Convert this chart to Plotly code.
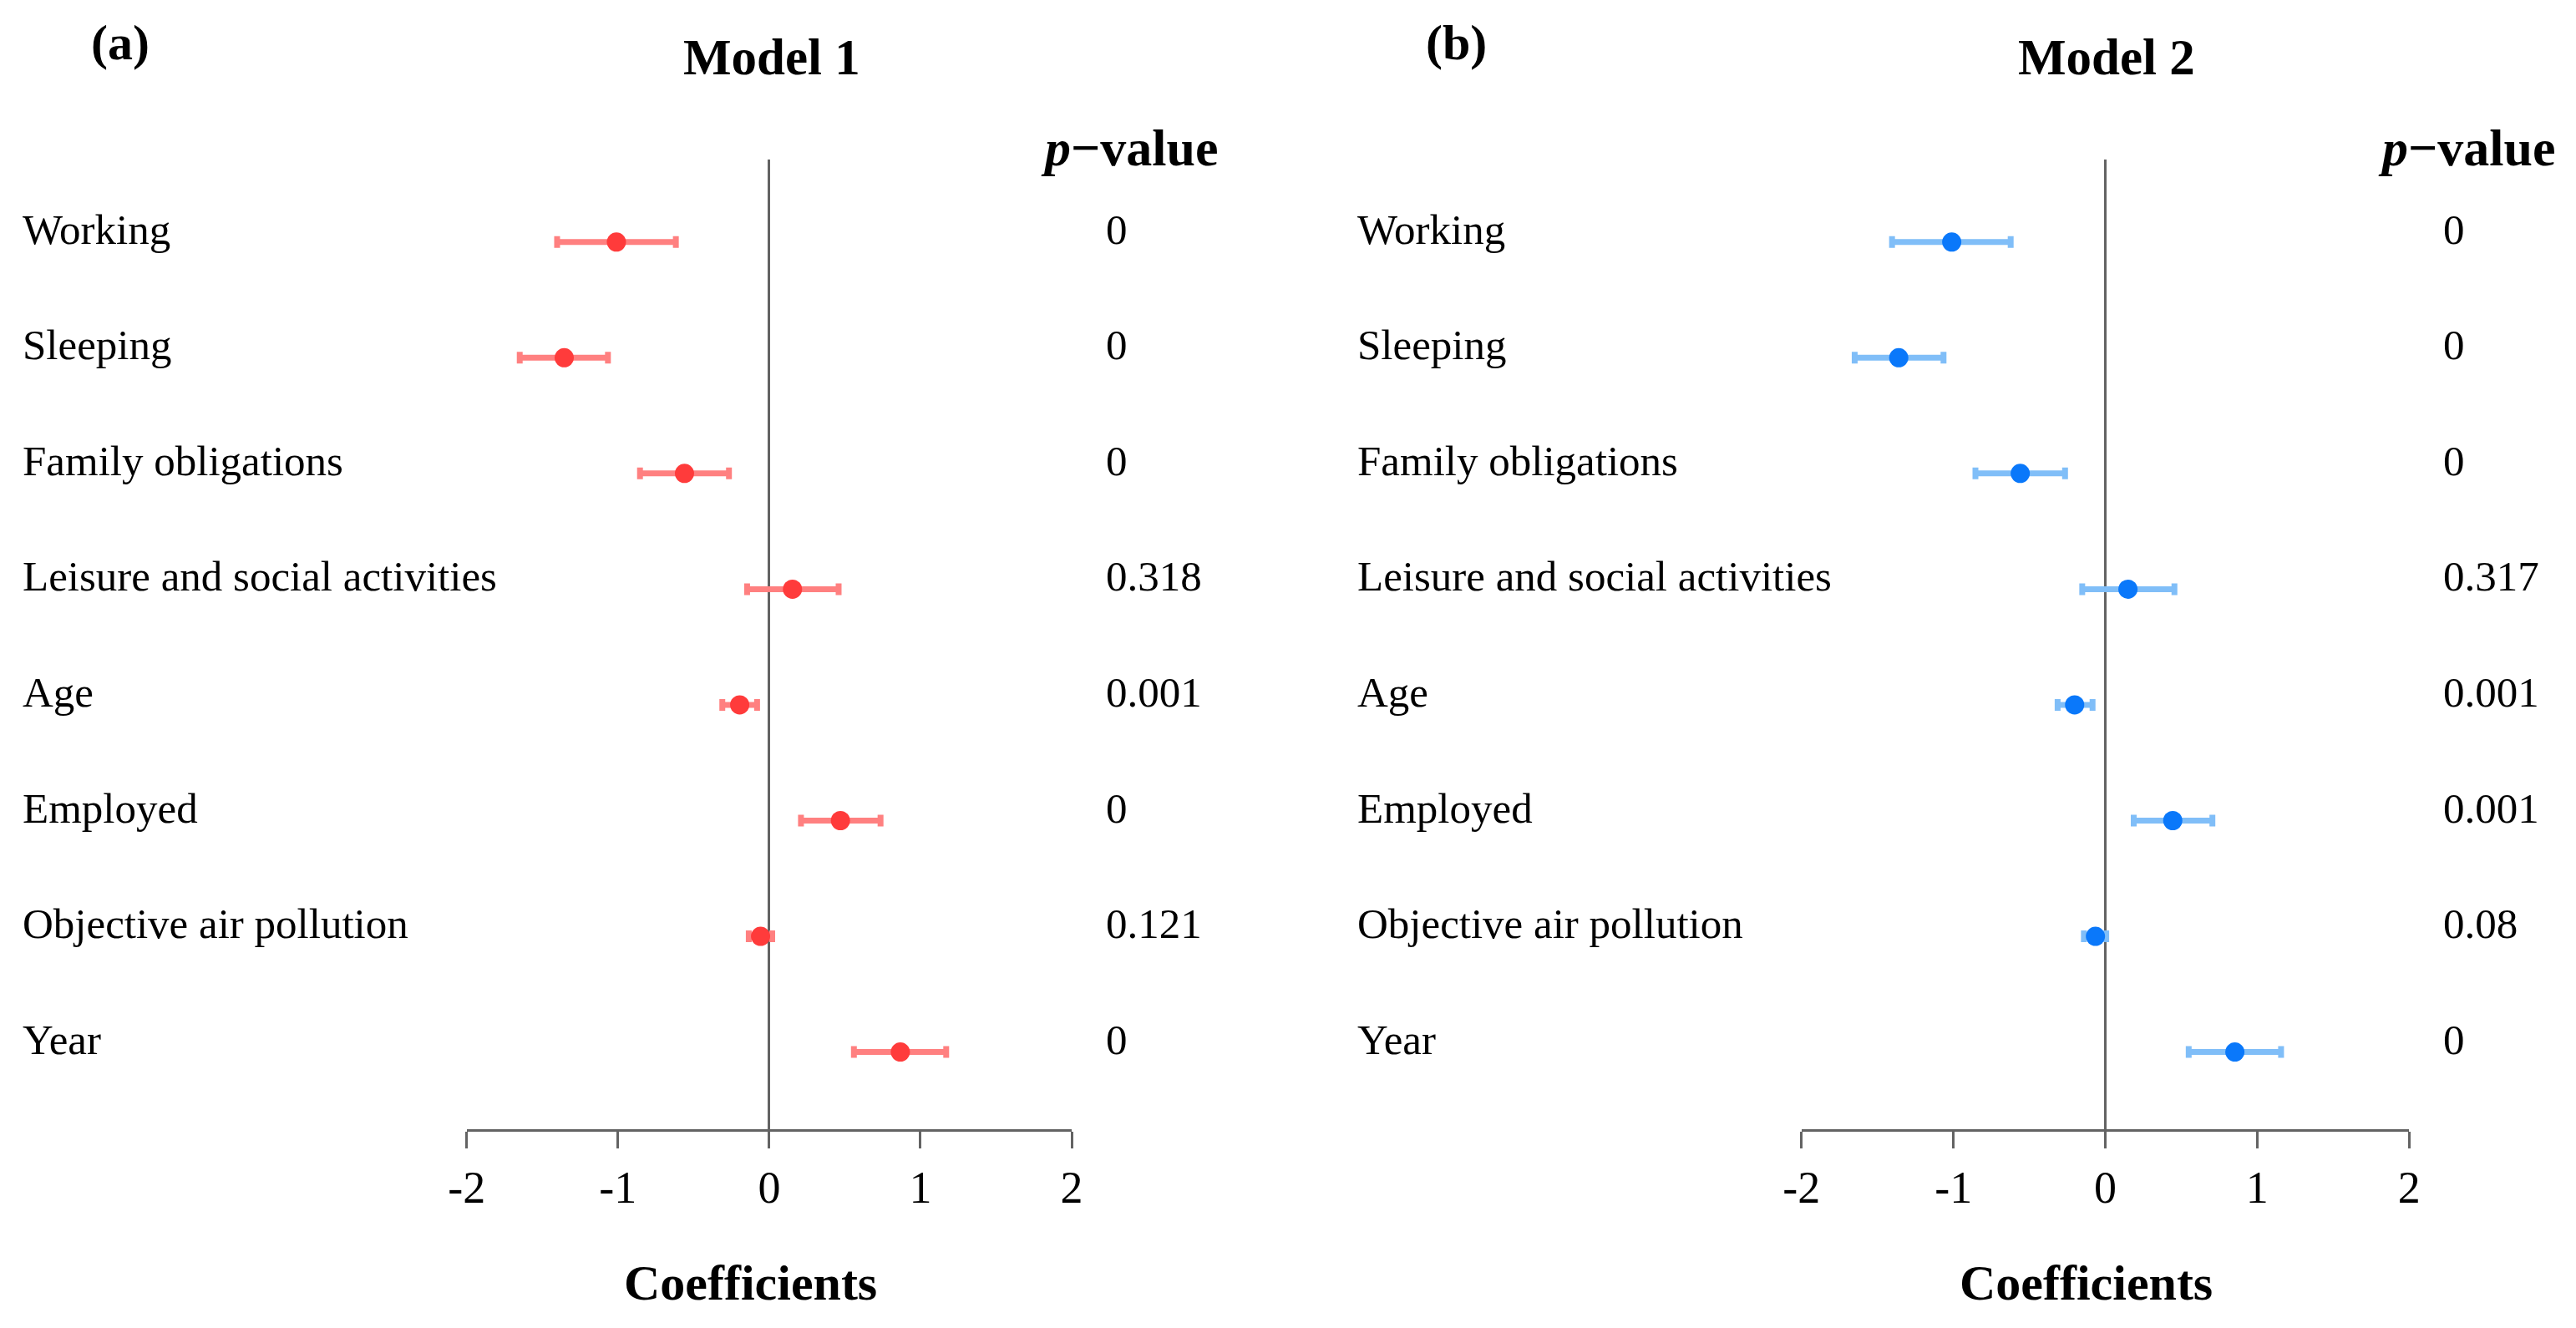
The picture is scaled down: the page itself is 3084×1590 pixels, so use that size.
import plotly.graph_objects as go

labels = ["Working", "Sleeping", "Family obligations", "Leisure and social activities",
          "Age", "Employed", "Objective air pollution", "Year"]

m1_coef = [-1.01, -1.355, -0.56, 0.154, -0.195, 0.471, -0.057, 0.867]
m1_lo = [-1.402, -1.649, -0.854, -0.146, -0.31, 0.21, -0.135, 0.56]
m1_hi = [-0.617, -1.066, -0.266, 0.459, -0.08, 0.736, 0.02, 1.17]
m1_p = ["0", "0", "0", "0.318", "0.001", "0", "0.121", "0"]

m2_coef = [-1.011, -1.36, -0.56, 0.149, -0.202, 0.444, -0.065, 0.853]
m2_lo = [-1.404, -1.65, -0.855, -0.152, -0.314, 0.187, -0.141, 0.549]
m2_hi = [-0.623, -1.065, -0.265, 0.455, -0.084, 0.705, 0.006, 1.157]
m2_p = ["0", "0", "0", "0.317", "0.001", "0.001", "0.08", "0"]

ticks = [-2, -1, 0, 1, 2]
tick_text = ["-2", "-1", "0", "1", "2"]

W, H = 3084, 1590
FONT = "Liberation Serif"
GREY = "#636363"
rows = list(range(len(labels)))


def px(x):
    return x / W


def py(y):
    return 1 - y / H


def forest(coef, lo, hi, marker_col, bar_col, xa, ya):
    return go.Scatter(
        x=coef, y=rows, mode="markers", xaxis=xa, yaxis=ya,
        marker=dict(size=23, color=marker_col),
        error_x=dict(type="data", symmetric=False,
                     array=[h - c for h, c in zip(hi, coef)],
                     arrayminus=[c - l for c, l in zip(coef, lo)],
                     color=bar_col, thickness=7, width=7),
        showlegend=False, hoverinfo="skip",
    )


fig = go.Figure()
fig.add_trace(forest(m1_coef, m1_lo, m1_hi, "#FF3B3B", "#FF8080", "x", "y"))
fig.add_trace(forest(m2_coef, m2_lo, m2_hi, "#0A78FA", "#80BEF8", "x2", "y2"))

xax = dict(range=[-2, 2], tickvals=ticks, ticktext=tick_text, ticks="outside",
           ticklen=20, tickwidth=3, tickcolor=GREY, showline=True, linecolor=GREY,
           linewidth=3, zeroline=True, zerolinecolor=GREY, zerolinewidth=3,
           showgrid=False, tickfont=dict(family=FONT, size=54, color="black"),
           fixedrange=True)
yax = dict(range=[7.667, -0.713], showticklabels=False, showgrid=False,
           zeroline=False, showline=False, domain=[py(1352), py(191)],
           fixedrange=True)

fig.update_layout(
    width=W, height=H,
    margin=dict(l=0, r=0, t=0, b=0),
    paper_bgcolor="white", plot_bgcolor="white",
    xaxis=dict(xax, domain=[px(543), px(1276)], anchor="y"),
    yaxis=dict(yax, anchor="x"),
    xaxis2=dict(xax, domain=[px(2160), px(2896)], anchor="y2"),
    yaxis2=dict(yax, anchor="x2"),
)

ann = []
panels = [
    ("x", "y", 3, 1315, m1_p, "(a)", 123, "Model 1", 913, 1346, 887),
    ("x2", "y2", 1620, 2935, m2_p, "(b)", 1742, "Model 2", 2530, 2966, 2505),
]
for xa, ya, lab_x, p_x, pvals, tag, tag_x, title, title_x, head_x, coef_x in panels:
    for i, (lab, pv) in enumerate(zip(labels, pvals)):
        ann.append(dict(x=px(lab_x), xref="paper", y=i, yref=ya, text=lab,
                        xanchor="left", yanchor="middle", yshift=15, showarrow=False,
                        font=dict(family=FONT, size=51, color="black")))
        ann.append(dict(x=px(p_x), xref="paper", y=i, yref=ya, text=pv,
                        xanchor="left", yanchor="middle", yshift=15, showarrow=False,
                        font=dict(family=FONT, size=51, color="black")))
    ann.append(dict(x=px(tag_x), xref="paper", y=py(51), yref="paper",
                    text="<b>" + tag + "</b>", showarrow=False,
                    xanchor="center", yanchor="middle",
                    font=dict(family=FONT, size=60, color="black")))
    ann.append(dict(x=px(title_x), xref="paper", y=py(69), yref="paper",
                    text="<b>" + title + "</b>", showarrow=False,
                    xanchor="center", yanchor="middle",
                    font=dict(family=FONT, size=61, color="black")))
    ann.append(dict(x=px(head_x), xref="paper", y=py(177), yref="paper",
                    text="<b><i>p</i>\u2212value</b>", showarrow=False,
                    xanchor="center", yanchor="middle",
                    font=dict(family=FONT, size=62, color="black")))
    ann.append(dict(x=px(coef_x), xref="paper", y=py(1536), yref="paper",
                    text="<b>Coefficients</b>", showarrow=False,
                    xanchor="center", yanchor="middle",
                    font=dict(family=FONT, size=60, color="black")))

fig.update_layout(annotations=ann)
# drop the default page margin so the figure sits at the window's corner
fig.write_html("out.html", config={"displayModeBar": False},
               post_script="document.body.style.margin='0px';")
